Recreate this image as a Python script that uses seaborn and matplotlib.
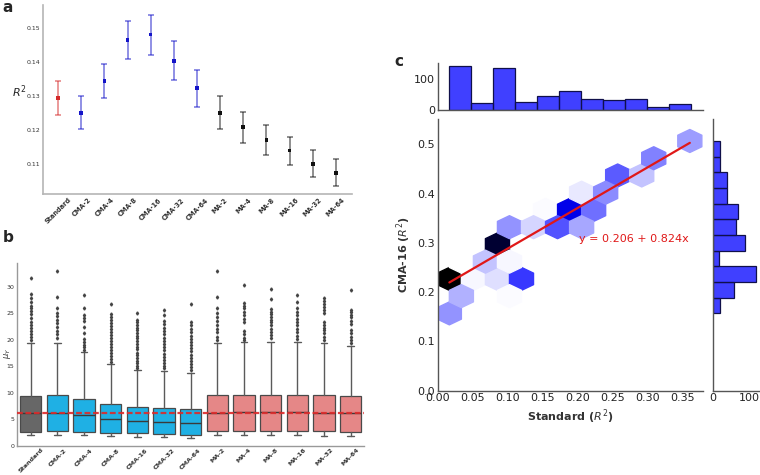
import numpy as np
import pandas as pd
import matplotlib
matplotlib.use("Agg")
import matplotlib.pyplot as plt
import seaborn as sns

# %% data
methods = ["Standard", "CMA-2", "CMA-4", "CMA-8", "CMA-16", "CMA-32", "CMA-64",
           "MA-2", "MA-4", "MA-8", "MA-16", "MA-32", "MA-64"]
groups = ["Standard"] + ["CMA"] * 6 + ["MA"] * 6

# panel a: mean R^2 with interval
r2_mean = [0.1294, 0.1251, 0.1344, 0.1466, 0.1481, 0.1404, 0.1324,
           0.1251, 0.1209, 0.1170, 0.1140, 0.1101, 0.1074]
r2_low = [0.1243, 0.1202, 0.1294, 0.1408, 0.1422, 0.1346, 0.1267,
          0.1202, 0.1161, 0.1126, 0.1098, 0.1062, 0.1035]
r2_high = [0.1345, 0.1299, 0.1394, 0.1521, 0.1540, 0.1462, 0.1378,
           0.1299, 0.1254, 0.1214, 0.1181, 0.1140, 0.1114]

# panel b: box summaries
box_q1 = [2.69, 2.82, 2.69, 2.50, 2.44, 2.25, 2.07, 2.82, 2.88, 2.88, 2.88, 2.88, 2.69]
box_med = [6.30, 6.26, 5.82, 5.07, 4.76, 4.45, 4.38, 6.26, 6.39, 6.39, 6.39, 6.26, 6.26]
box_q3 = [9.39, 9.58, 8.77, 7.83, 7.26, 7.08, 6.89, 9.52, 9.64, 9.52, 9.64, 9.52, 9.33]
box_lo = [2.07, 2.00, 2.00, 1.88, 1.75, 1.63, 1.50, 2.00, 2.00, 2.00, 2.00, 1.88, 1.82]
box_hi = [19.35, 19.47, 17.78, 15.47, 14.40, 14.20, 13.84, 19.40, 19.66, 19.66, 19.60, 19.40, 18.90]
box_fliers = [
    [31.6, 28.6, 27.9, 27.2, 26.4, 25.9, 25.4, 24.8, 24.1, 23.4, 22.7, 22.2, 21.6, 21.0, 20.5, 20.0],
    [32.9, 28.1, 25.9, 25.0, 24.4, 23.8, 23.2, 22.4, 21.7, 21.0, 20.4],
    [28.4, 25.9, 24.6, 24.1, 23.5, 22.4, 21.2, 20.2, 19.6, 19.1, 18.6, 18.1],
    [26.8, 24.9, 24.3, 23.8, 23.2, 22.6, 22.0, 21.5, 20.9, 20.3, 19.8, 19.2, 18.7, 18.1, 17.6, 17.0, 16.4, 15.9],
    [25.1, 23.7, 23.3, 22.8, 22.3, 21.8, 21.3, 20.8, 20.3, 19.7, 19.2, 18.7, 18.2, 17.6, 17.1, 16.6, 16.1, 15.6, 15.1, 14.7],
    [25.7, 24.6, 23.6, 22.9, 22.2, 21.6, 21.0, 20.4, 19.8, 19.2, 18.6, 18.0, 17.4, 16.8, 16.2, 15.6, 15.0, 14.6],
    [26.7, 23.4, 22.8, 22.0, 21.4, 20.8, 20.2, 19.6, 19.0, 18.4, 17.8, 17.2, 16.6, 16.0, 15.4, 14.8, 14.3],
    [32.9, 28.1, 25.9, 25.0, 24.2, 23.5, 22.8, 22.1, 21.4, 20.6, 20.0],
    [30.4, 26.9, 26.4, 25.9, 25.3, 24.6, 24.0, 23.3, 21.6, 21.0, 20.4, 20.0],
    [29.6, 27.6, 25.8, 25.3, 24.8, 24.3, 23.8, 23.3, 22.7, 22.1, 21.5, 20.9, 20.3],
    [28.5, 27.1, 26.0, 25.3, 24.6, 24.0, 23.3, 22.7, 22.0, 21.4, 20.7, 20.1],
    [27.8, 27.3, 26.8, 26.2, 25.6, 25.0, 23.3, 22.8, 22.3, 21.8, 21.3, 20.6, 20.0],
    [29.4, 25.7, 25.2, 24.7, 24.2, 23.6, 23.0, 21.8, 21.2, 20.6, 20.0, 19.4],
]
ref_level = 6.26

# panel c: hexbin cells (centre, count)
hex_x = [0.0167, 0.0167, 0.0339, 0.0339, 0.0511, 0.0683, 0.0855, 0.0855, 0.1027, 0.1027,
         0.1199, 0.1027, 0.1371, 0.1543, 0.1715, 0.1887, 0.2059, 0.2059, 0.2231, 0.2403,
         0.2575, 0.2919, 0.3091, 0.3607]
hex_y = [0.2270, 0.1570, 0.1920, 0.2620, 0.2270, 0.2620, 0.2970, 0.2270, 0.2620, 0.3320,
         0.2270, 0.1920, 0.3320, 0.3670, 0.3320, 0.3670, 0.3320, 0.4020, 0.3670, 0.4020,
         0.4370, 0.4370, 0.4720, 0.5070]
hex_n = [110, 24, 18, 1, 3, 14, 99, 8, 3, 24,
         44, 2, 10, 2, 38, 60, 20, 6, 32, 26,
         36, 14, 28, 22]
top_range = (0.0162, 0.3629)
top_counts = [142, 22, 136, 25, 46, 61, 36, 33, 36, 10, 20]
right_range = (0.1571, 0.5073)
right_counts = [20, 58, 117, 16, 88, 64, 70, 38, 38, 21, 20]
fit_a, fit_b = 0.206, 0.824

# %% style
sns.set_style("white")
plt.rcParams["font.family"] = ["DejaVu Sans"]

fig = plt.figure(figsize=(7.6, 4.75), dpi=100)

group_colors = {"Standard": "#d42a2a", "CMA": "#1414c8", "MA": "#111111"}
box_colors = {"Standard": "#676767", "CMA": "#1fb0e4", "MA": "#e58787"}

# %% panel a
ax_a = fig.add_axes([0.0566, 0.5916, 0.4066, 0.3978])
xs = np.arange(len(methods))
for i, m in enumerate(methods):
    c = group_colors[groups[i]]
    ax_a.errorbar(
        xs[i], r2_mean[i],
        yerr=[[r2_mean[i] - r2_low[i]], [r2_high[i] - r2_mean[i]]],
        fmt="none", ecolor=c, elinewidth=1.1, capsize=2.0, capthick=1.1, alpha=0.6,
    )
sns.scatterplot(
    x=xs, y=r2_mean, hue=groups, palette=group_colors, marker="s", s=7,
    linewidth=0, legend=False, ax=ax_a, zorder=3,
)
ax_a.set_xlim(-0.65, 12.7)
ax_a.set_ylim(0.1012, 0.1568)
ax_a.set_yticks([0.11, 0.12, 0.13, 0.14, 0.15])
ax_a.set_yticklabels(["0.11", "0.12", "0.13", "0.14", "0.15"], fontsize=4.5, color="#333333")
ax_a.set_xticks(xs)
ax_a.set_xticklabels(methods, rotation=45, fontsize=4.8, fontweight="bold", color="#333333")
ax_a.tick_params(axis="both", length=0, pad=2)
ax_a.set_ylabel("$R^2$", rotation=0, fontsize=8)
ax_a.yaxis.set_label_coords(-0.077, 0.5)
sns.despine(ax=ax_a)
for s in ["left", "bottom"]:
    ax_a.spines[s].set_color("#b5b5b5")
    ax_a.spines[s].set_linewidth(1.2)

# %% panel b
ax_b = fig.add_axes([0.0228, 0.061, 0.4562, 0.3847])
stats = []
for i, m in enumerate(methods):
    stats.append(dict(label=m, med=box_med[i], q1=box_q1[i], q3=box_q3[i],
                      whislo=box_lo[i], whishi=box_hi[i], fliers=box_fliers[i]))
bp = ax_b.bxp(
    stats, positions=xs, widths=0.8, capwidths=0.25, patch_artist=True,
    boxprops=dict(edgecolor="#4a4a4a", linewidth=0.9),
    whiskerprops=dict(color="#5a5a5a", linewidth=1.0),
    capprops=dict(color="#5a5a5a", linewidth=1.0),
    medianprops=dict(color="#3a3a3a", linewidth=1.0),
    flierprops=dict(marker="d", markersize=1.6, markerfacecolor="#444444",
                    markeredgecolor="#444444", linestyle="none"),
)
for i, patch in enumerate(bp["boxes"]):
    patch.set_facecolor(box_colors[groups[i]])
ax_b.axhline(ref_level, color="#dd2a2a", ls="--", lw=1.6, dashes=(2.6, 1.2), alpha=0.9, zorder=5)
ax_b.set_xlim(-0.5, 12.5)
ax_b.set_ylim(0, 34.4)
ax_b.set_yticks([0, 5, 10, 15, 20, 25, 30])
ax_b.set_yticklabels(["0", "5", "10", "15", "20", "25", "30"], fontsize=4.5, color="#333333")
ax_b.set_xticks(xs)
ax_b.set_xticklabels(methods, rotation=45, fontsize=4.6, fontweight="bold", color="#333333")
ax_b.tick_params(axis="x", length=0, pad=1)
ax_b.tick_params(axis="y", length=0, pad=2)
ax_b.set_ylabel("$\\mu_Y$", fontsize=6, color="#333333")
ax_b.yaxis.set_label_coords(-0.013, 0.51)
sns.despine(ax=ax_b)
for s in ["left", "bottom"]:
    ax_b.spines[s].set_color("#999999")
    ax_b.spines[s].set_linewidth(1.0)

# %% panel c
ax_c = fig.add_axes([0.5759, 0.1775, 0.3495, 0.5713])
ax_top = fig.add_axes([0.5759, 0.7678, 0.3495, 0.0989], sharex=ax_c)
ax_right = fig.add_axes([0.9378, 0.1775, 0.0605, 0.5713], sharey=ax_c)

blue = "#0000ff"
hex_colors = [sns.utils.set_hls_values(blue, l=l) for l in np.linspace(1, 0, 12)]
hex_cmap = sns.blend_palette(hex_colors, as_cmap=True)
ax_c.hexbin(hex_x, hex_y, C=hex_n, reduce_C_function=np.sum, gridsize=10,
            extent=(0.0167, 0.3607, 0.157, 0.507), cmap=hex_cmap)

fit_x = np.array([min(hex_x), max(hex_x)])
sns.lineplot(x=fit_x, y=fit_a + fit_b * fit_x, color="#e01818", lw=1.6, ax=ax_c)
ax_c.text(0.2027, 0.307, f"y = {fit_a:.3f} + {fit_b:.3f}x", color="#e01818",
          fontsize=8, va="center", ha="left")

n_bins = len(top_counts)
top_w = (top_range[1] - top_range[0]) / n_bins
top_df = pd.DataFrame({
    "x": [top_range[0] + (i + 0.5) * top_w for i in range(n_bins)],
    "n": top_counts,
})
sns.histplot(data=top_df, x="x", weights="n", bins=n_bins, binrange=top_range,
             color=blue, alpha=0.75, edgecolor="#10104a", linewidth=0.9, ax=ax_top)
right_w = (right_range[1] - right_range[0]) / n_bins
right_df = pd.DataFrame({
    "y": [right_range[0] + (i + 0.5) * right_w for i in range(n_bins)],
    "n": right_counts,
})
sns.histplot(data=right_df, y="y", weights="n", bins=n_bins, binrange=right_range,
             color=blue, alpha=0.75, edgecolor="#10104a", linewidth=0.9, ax=ax_right)

ax_c.set_xlim(0, 0.38)
ax_c.set_ylim(0, 0.551)
ax_c.set_xticks(np.arange(0, 0.36, 0.05))
ax_c.set_xticklabels([f"{v:.2f}" for v in np.arange(0, 0.36, 0.05)])
ax_c.set_yticks(np.arange(0, 0.51, 0.1))
ax_c.set_yticklabels([f"{v:.1f}" for v in np.arange(0, 0.51, 0.1)])
ax_c.tick_params(axis="both", length=0, labelsize=8, pad=2, labelcolor="#222222")
ax_c.set_xlabel("Standard ($R^2$)", fontsize=8, fontweight="bold", color="#333333", labelpad=3)
ax_c.set_ylabel("CMA-16 ($R^2$)", fontsize=8, fontweight="bold", color="#333333", labelpad=3)

ax_top.set_ylim(0, 150)
ax_top.set_yticks([0, 100])
ax_top.set_xlabel("")
ax_top.set_ylabel("")
ax_top.tick_params(axis="y", length=0, labelsize=8, pad=2, labelcolor="#222222")
ax_top.tick_params(axis="x", length=0, labelbottom=False)

ax_right.set_xlim(0, 125)
ax_right.set_xticks([0, 100])
ax_right.set_xlabel("")
ax_right.set_ylabel("")
ax_right.tick_params(axis="x", length=0, labelsize=8, pad=2, labelcolor="#222222")
ax_right.tick_params(axis="y", length=0, labelleft=False)

for ax in [ax_c, ax_top, ax_right]:
    sns.despine(ax=ax)
    for s in ["left", "bottom"]:
        ax.spines[s].set_color("#555555")
        ax.spines[s].set_linewidth(1.0)

# panel letters
fig.text(0.0105, 0.985, "a", fontsize=11, fontweight="bold", ha="center", va="center")
fig.text(0.0105, 0.499, "b", fontsize=11, fontweight="bold", ha="center", va="center")
fig.text(0.525, 0.87, "c", fontsize=11, fontweight="bold", ha="center", va="center")

fig.savefig("out.png", dpi=100)
